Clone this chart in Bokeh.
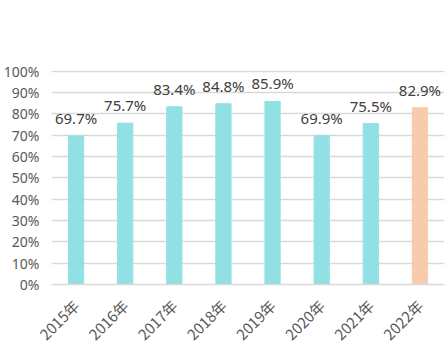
from bokeh.plotting import figure
from bokeh.models import ColumnDataSource, Range1d, NumeralTickFormatter, FixedTicker
from bokeh.core.properties import value
from bokeh.embed import file_html
from bokeh.resources import INLINE
import math

years = ["2015年", "2016年", "2017年", "2018年", "2019年", "2020年", "2021年", "2022年"]
rates = [0.697, 0.757, 0.834, 0.848, 0.859, 0.699, 0.755, 0.829]
labels = ["69.7%", "75.7%", "83.4%", "84.8%", "85.9%", "69.9%", "75.5%", "82.9%"]
colors = ["#91E1E4"] * 7 + ["#F8CBAD"]

src = ColumnDataSource(dict(x=years, y=rates, lab=labels, c=colors))

p = figure(x_range=years, y_range=Range1d(0, 1.004), width=447, height=362,
           output_backend="svg", toolbar_location=None,
           min_border_left=48, min_border_right=3, min_border_top=70, min_border_bottom=78)
p.outline_line_color = None
p.background_fill_color = "white"

p.vbar(x="x", top="y", width=0.31, color="c", source=src)
p.text(x="x", y="y", text="lab", source=src, text_align="center", text_baseline="bottom",
       y_offset=-8, text_font_size="15px", text_color="#404040", text_font=value("Noto Sans"))

p.yaxis.ticker = FixedTicker(ticks=[i / 10 for i in range(11)])
p.yaxis.formatter = NumeralTickFormatter(format="0%")
p.yaxis.axis_line_color = None
p.yaxis.major_tick_line_color = None
p.yaxis.minor_tick_line_color = None
p.yaxis.major_tick_out = 0
p.yaxis.major_tick_in = 0
p.yaxis.major_label_text_font_size = "14px"
p.yaxis.major_label_text_color = "#595959"
p.yaxis.major_label_text_font = "Noto Sans"
p.yaxis.major_label_standoff = 12

p.xaxis.axis_line_color = "#D9D9D9"
p.xaxis.axis_line_width = 1.5
p.xaxis.major_tick_line_color = None
p.xaxis.minor_tick_line_color = None
p.xaxis.major_tick_out = 0
p.xaxis.major_tick_in = 0
p.xaxis.major_label_orientation = math.pi / 4
p.xaxis.major_label_text_font_size = "15px"
p.xaxis.major_label_text_color = "#595959"
p.xaxis.major_label_text_font = "Noto Sans CJK SC"
p.xaxis.major_label_standoff = 18

p.xgrid.grid_line_color = None
p.ygrid.grid_line_color = "#D9D9D9"
p.ygrid.grid_line_width = 1.5

open("out.html", "w").write(file_html(p, INLINE))
